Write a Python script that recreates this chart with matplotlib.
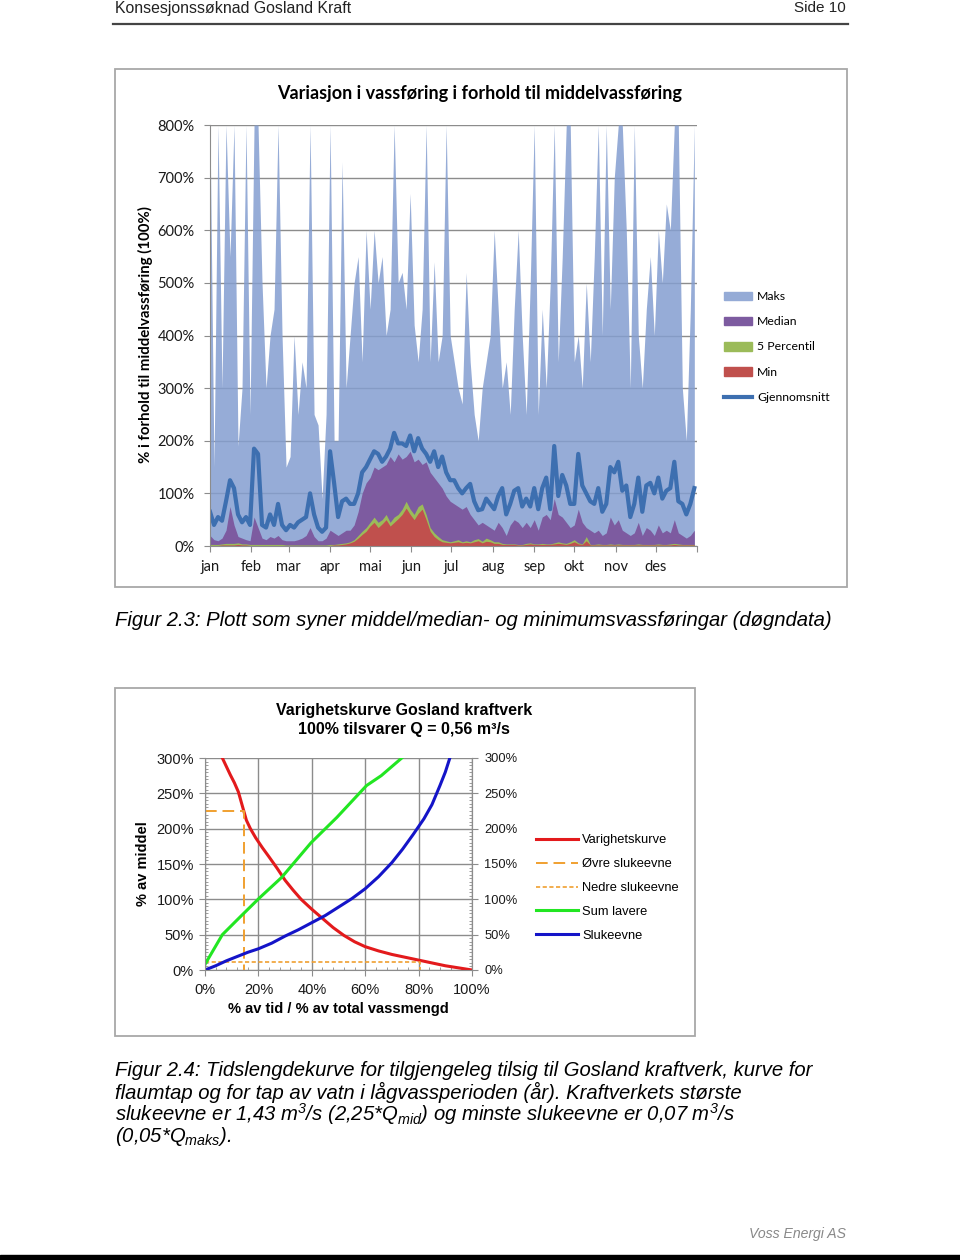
import numpy as np
import matplotlib.pyplot as plt
from matplotlib.patches import Patch, Rectangle
from matplotlib.lines import Line2D

plt.rcParams['mathtext.fontset'] = 'custom'
plt.rcParams['mathtext.rm'] = 'Liberation Sans:italic'
plt.rcParams['mathtext.it'] = 'Liberation Sans:italic'

W, H = 960, 1260


def fx(px):
    return px / W


def fy(py):
    return 1 - py / H


# --- Top chart: daily flow relative to mean flow (%), one value every 3rd day ---
days = np.arange(1, 366, 3)

maks = np.array([
    800, 150, 800, 300, 800, 550, 800, 190, 300, 800,
    250, 800, 800, 500, 300, 400, 450, 800, 400, 150,
    170, 400, 250, 350, 300, 800, 250, 230, 90, 250,
    800, 200, 200, 730, 300, 400, 500, 550, 350, 600,
    450, 600, 500, 550, 400, 450, 800, 500, 520, 450,
    670, 420, 350, 450, 800, 350, 540, 350, 400,
    800, 400, 350, 300, 270, 520, 350, 250, 200, 300,
    350, 400, 600, 450, 300, 350, 250, 450, 600, 400,
    250, 500, 800, 250, 450, 300, 500, 800, 350, 550,
    800, 800, 350, 400, 300, 500, 350, 550, 800, 400,
    800, 450, 700, 800, 800, 600, 300, 800, 400, 300,
    450, 550, 400, 600, 500, 650, 600, 800, 800, 300,
    200, 450, 800])

median = np.array([
    20, 12, 10, 15, 30, 75, 40, 18, 15, 12,
    10, 55, 35, 15, 12, 18, 15, 20, 12, 10,
    10, 10, 12, 15, 20, 35, 18, 10, 10, 15,
    30, 25, 20, 25, 30, 30, 40, 65, 100, 120,
    130, 150, 145, 150, 155, 170, 160, 175, 165, 170,
    180, 160, 165, 155, 160, 140, 130, 120, 110,
    95, 85, 80, 75, 70, 75, 60, 50, 40, 45,
    40, 35, 30, 45, 35, 20, 40, 50, 45, 35,
    45, 35, 50, 30, 55, 60, 50, 90, 60, 55,
    45, 35, 40, 70, 45, 35, 30, 25, 30, 20,
    25, 55, 40, 50, 30, 25, 20, 25, 45, 20,
    35, 30, 20, 40, 25, 30, 25, 50, 25, 20,
    15, 20, 30])

percentil5 = np.array([
    3, 3, 3, 4, 5, 5, 5, 6, 4, 4,
    3, 3, 3, 3, 3, 3, 3, 3, 3, 2,
    2, 2, 2, 2, 2, 2, 2, 2, 2, 2,
    3, 3, 4, 5, 6, 8, 12, 20, 28, 35,
    45, 55, 45, 50, 60, 45, 55, 60, 70, 85,
    70, 60, 75, 80, 60, 35, 25, 18, 12,
    10, 8, 10, 12, 8, 10, 8, 12, 14, 9,
    15, 12, 8, 8, 5, 4, 4, 4, 3, 3,
    5, 6, 4, 4, 5, 4, 4, 6, 8, 6,
    5, 8, 12, 6, 4, 18, 3, 3, 4, 3,
    3, 4, 3, 4, 3, 3, 3, 3, 4, 3,
    3, 3, 3, 4, 3, 3, 4, 5, 4, 3,
    3, 3, 3])

minimum = np.array([
    1, 1, 1, 2, 2, 2, 2, 3, 2, 2,
    1, 1, 1, 1, 1, 1, 1, 1, 1, 1,
    1, 1, 1, 1, 1, 1, 1, 1, 1, 1,
    1, 2, 2, 3, 4, 6, 9, 15, 22, 28,
    38, 45, 35, 42, 50, 38, 45, 52, 60, 72,
    60, 50, 62, 70, 50, 28, 18, 12, 8,
    7, 6, 7, 8, 6, 7, 6, 8, 10, 6,
    9, 8, 5, 5, 3, 3, 3, 3, 2, 2,
    3, 4, 3, 3, 3, 3, 3, 4, 5, 4,
    3, 5, 8, 4, 3, 10, 2, 2, 2, 2,
    2, 2, 2, 2, 2, 2, 2, 2, 2, 2,
    2, 2, 2, 2, 2, 2, 2, 3, 2, 2,
    2, 2, 2])

gjennomsnitt = np.array([
    65, 40, 55, 48, 85, 125, 110, 60, 45, 55,
    40, 185, 175, 40, 35, 60, 40, 80, 40, 30,
    40, 35, 45, 50, 55, 100, 60, 35, 27, 35,
    180, 120, 55, 85, 90, 80, 80, 100, 140, 150,
    165, 180, 175, 160, 170, 185, 215, 195, 195, 190,
    210, 180, 205, 185, 175, 160, 180, 150, 170,
    140, 125, 125, 110, 100, 110, 118, 85, 68, 70,
    90, 80, 70, 95, 110, 60, 80, 105, 110, 75,
    90, 75, 110, 70, 110, 130, 70, 190, 95, 135,
    115, 80, 80, 175, 115, 100, 85, 80, 110, 65,
    80, 150, 140, 160, 105, 115, 55, 80, 130, 65,
    115, 120, 100, 130, 90, 105, 110, 160, 85, 80,
    60, 80, 110])

month_start = [1, 32, 60, 91, 121, 152, 182, 213, 244, 274, 305, 335, 366]
month_labels = ['jan', 'feb', 'mar', 'apr', 'mai', 'jun', 'jul', 'aug',
                'sep', 'okt', 'nov', 'des', '']

# --- Bottom chart: duration curves (x = % av tid, y = % av middel) ---
var_x = [6.5, 8, 9.5, 11, 12.5, 14, 15.5, 17, 19, 21.5, 24, 27, 30, 33, 36, 40,
         44, 48, 52, 56, 60, 65, 70, 75, 80, 85, 90, 95, 100]
var_y = [300, 288, 276, 265, 252, 232, 212, 200, 187, 173, 160, 144, 127, 113,
         100, 86, 73, 60, 49, 40, 33, 27, 22, 18, 14, 10, 6, 3, 0]
sum_x = [0, 6.5, 13.4, 20.4, 28.7, 39.7, 49.4, 60.5, 66, 73.7]
sum_y = [8, 50, 76, 102, 131, 180, 216, 261, 275, 300]
sluk_x = [0, 4, 8, 12, 16, 20, 25, 30, 35, 40, 45, 50, 55, 60, 65, 70, 74, 78,
          82, 85, 88, 90, 91.7]
sluk_y = [0, 6, 13, 19, 25, 30, 38, 48, 57, 67, 77, 89, 101, 115, 132, 152, 171,
          192, 214, 234, 261, 280, 300]
ovre_x = [0, 14.6, 14.6]
ovre_y = [225, 225, 0]
nedre_x = [0, 80.6, 80.6]
nedre_y = [11.3, 11.3, 0]

fig = plt.figure(figsize=(9.6, 12.6), dpi=100)
fig.patch.set_facecolor('white')

# --- Page header / footer ---
fig.text(fx(115), fy(8), 'Konsesjonssøknad Gosland Kraft', family='Liberation Sans',
         fontsize=11.4, color='#222222', va='center')
fig.text(fx(846), fy(8), 'Side 10', family='Liberation Sans', fontsize=11,
         color='#222222', va='center', ha='right')
fig.add_artist(Line2D([fx(113), fx(848)], [fy(24), fy(24)], color='#444444', lw=1.6))
fig.text(fx(846), fy(1234), 'Voss Energi AS', family='Liberation Sans', style='italic',
         fontsize=10.1, color='#888888', va='center', ha='right')
fig.add_artist(Rectangle((0, 0), 1, 5 / H, transform=fig.transFigure, color='black'))

# --- Top chart ---
fig.add_artist(Rectangle((fx(115), fy(587)), fx(847) - fx(115), (587 - 69) / H,
                         transform=fig.transFigure, fill=False, ec='#a8a8a8', lw=1.3))
ax = fig.add_axes([fx(210), fy(546), fx(697) - fx(210), (546 - 125) / H])
ax.set_axisbelow(True)
ax.fill_between(days, 0, maks, color='#849ED0', alpha=0.85, lw=0, label='Maks')
ax.fill_between(days, 0, median, color='#7D5BA0', lw=0, label='Median')
ax.fill_between(days, 0, percentil5, color='#9BBB59', lw=0, label='5 Percentil')
ax.fill_between(days, 0, minimum, color='#C0504D', lw=0, label='Min')
ax.plot(days, gjennomsnitt, color='#3D6FB0', lw=3, label='Gjennomsnitt')
ax.set_xlim(1, 366)
ax.set_ylim(0, 800)
ax.set_yticks(range(0, 801, 100))
ax.set_yticklabels([f'{v}%' for v in range(0, 801, 100)])
ax.set_xticks(month_start)
ax.set_xticklabels(month_labels)
ax.grid(axis='y', color='#8c8c8c', lw=1)
for s in ['top', 'right']:
    ax.spines[s].set_visible(False)
for s in ['left', 'bottom']:
    ax.spines[s].set_color('#8c8c8c')
ax.tick_params(axis='both', colors='#8c8c8c', length=4, labelcolor='#1a1a1a',
               labelsize=10.5)
ax.tick_params(axis='y', pad=7)
ax.tick_params(axis='x', pad=6)
for lab in ax.get_xticklabels() + ax.get_yticklabels():
    lab.set_family('Lato')

fig.text(fx(480), fy(93), 'Variasjon i vassføring i forhold til middelvassføring',
         family='Lato', weight='bold', fontsize=13, ha='center', va='center')
fig.text(fx(145), fy(335), '% i forhold til middelvassføring (100%)', family='Lato',
         weight='bold', fontsize=10.8, rotation=90, ha='center', va='center')

top_handles = [Patch(color='#95ABD6'), Patch(color='#7D5BA0'), Patch(color='#9BBB59'),
               Patch(color='#C0504D'), Line2D([], [], color='#3D6FB0', lw=3)]
top_labels = ['Maks', 'Median', '5 Percentil', 'Min', 'Gjennomsnitt']
fig.legend(top_handles, top_labels, loc='center left', bbox_to_anchor=(fx(713), fy(347)),
           frameon=False, prop={'family': 'Lato', 'size': 8.8}, handlelength=2.3,
           handleheight=0.7, labelspacing=1.16, handletextpad=0.4)

fig.text(fx(115), fy(620), 'Figur 2.3: Plott som syner middel/median- og minimumsvassføringar (døgndata)',
         family='Liberation Sans', style='italic', fontsize=14.6, va='center')

# --- Bottom chart ---
fig.add_artist(Rectangle((fx(115), fy(1036)), fx(695) - fx(115), (1036 - 688) / H,
                         transform=fig.transFigure, fill=False, ec='#a8a8a8', lw=1.3))
bx = fig.add_axes([fx(205), fy(970), fx(472) - fx(205), (970 - 758) / H])
bx.set_axisbelow(True)
bx.plot(var_x, var_y, color='#E31A1C', lw=2.2, label='Varighetskurve')
bx.plot(ovre_x, ovre_y, color='#F0A030', lw=1.4, ls=(0, (6, 3)), label='Øvre slukeevne')
bx.plot(nedre_x, nedre_y, color='#F0A030', lw=1.2, ls=(0, (2.5, 1.5)), label='Nedre slukeevne')
bx.plot(sum_x, sum_y, color='#22E622', lw=2.2, label='Sum lavere')
bx.plot(sluk_x, sluk_y, color='#1414C8', lw=2.2, label='Slukeevne')
bx.set_xlim(0, 100)
bx.set_ylim(0, 300)
bx.set_xticks(range(0, 101, 20))
bx.set_xticklabels([f'{v}%' for v in range(0, 101, 20)])
bx.set_xticks(range(0, 101, 4), minor=True)
bx.set_yticks(range(0, 301, 50))
bx.set_yticklabels([f'{v}%' for v in range(0, 301, 50)])
bx.set_yticks(range(0, 301, 5), minor=True)
bx.grid(which='major', color='#8c8c8c', lw=1)
for s in bx.spines.values():
    s.set_color('#8c8c8c')
bx.spines['top'].set_visible(False)
bx.tick_params(which='major', colors='#8c8c8c', length=4, labelcolor='#1a1a1a', labelsize=10.5)
bx.tick_params(which='minor', colors='#8c8c8c', length=2.5, direction='in')
bx.tick_params(axis='y', pad=4)
bx.tick_params(axis='x', pad=5)
for lab in bx.get_xticklabels() + bx.get_yticklabels():
    lab.set_family('Liberation Sans')

rx = bx.twinx()
rx.set_ylim(0, 300)
rx.set_yticks(range(0, 301, 50))
rx.set_yticklabels([f'{v}%' for v in range(0, 301, 50)])
rx.set_yticks(range(0, 301, 5), minor=True)
for s in rx.spines.values():
    s.set_visible(False)
rx.spines['right'].set_visible(True)
rx.spines['right'].set_color('#8c8c8c')
rx.tick_params(which='major', colors='#8c8c8c', length=4, labelcolor='#1a1a1a',
               labelsize=9.3, pad=5)
rx.tick_params(which='minor', colors='#8c8c8c', length=2.5, direction='in')
for lab in rx.get_yticklabels():
    lab.set_family('Liberation Sans')

fig.text(fx(404), fy(710), 'Varighetskurve Gosland kraftverk', family='Liberation Sans',
         weight='bold', fontsize=11.5, ha='center', va='center')
fig.text(fx(404), fy(729), '100% tilsvarer Q = 0,56 m³/s', family='Liberation Sans',
         weight='bold', fontsize=11.5, ha='center', va='center')
fig.text(fx(143), fy(864), '% av middel', family='Liberation Sans', weight='bold',
         fontsize=10.5, rotation=90, ha='center', va='center')
fig.text(fx(338), fy(1009), '% av tid / % av total vassmengd', family='Liberation Sans',
         weight='bold', fontsize=10.5, ha='center', va='center')

h, l = bx.get_legend_handles_labels()
fig.legend(h, l, loc='center left', bbox_to_anchor=(fx(524), fy(888)), frameon=False,
           prop={'family': 'Liberation Sans', 'size': 9.3}, handlelength=3.3,
           labelspacing=0.92, handletextpad=0.3)

caption = [
    'Figur 2.4: Tidslengdekurve for tilgjengeleg tilsig til Gosland kraftverk, kurve for',
    'flaumtap og for tap av vatn i lågvassperioden (år). Kraftverkets største',
    'slukeevne er 1,43 m$^3$/s (2,25*Q$_{mid}$) og minste slukeevne er 0,07 m$^3$/s',
    '(0,05*Q$_{maks}$).',
]
for i, line in enumerate(caption):
    fig.text(fx(115), fy(1070 + 22 * i), line, family='Liberation Sans', style='italic',
             fontsize=14.6, va='center')

fig.savefig('out.png', dpi=100)
